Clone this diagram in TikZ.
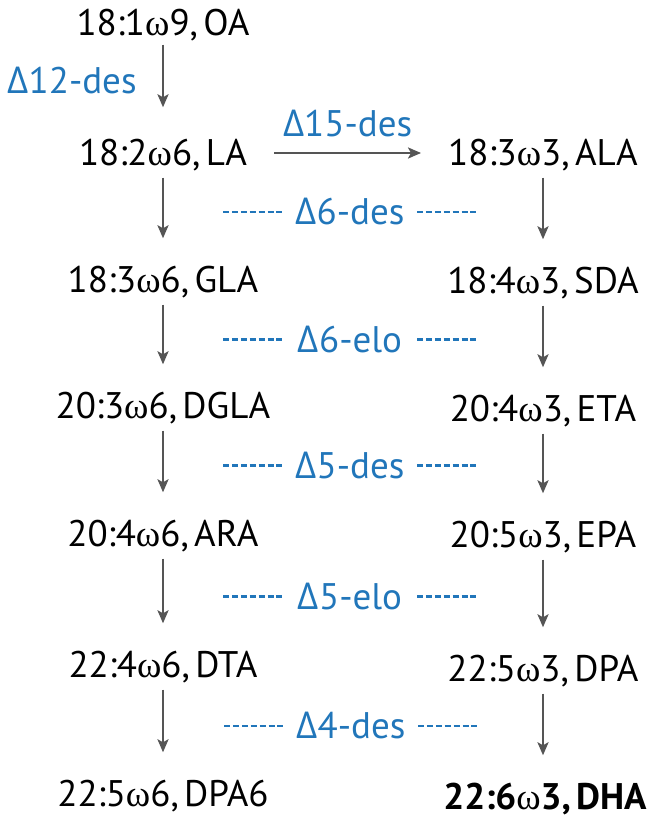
\documentclass[tikz,border=0pt]{standalone}
\usepackage{fontspec}
\setmainfont{PT Sans}[WordSpace=0.55]
\newfontfamily\omfont{Liberation Serif}
\newfontfamily\grkfont{Open Sans}
\usepackage{tikz}
\usetikzlibrary{arrows.meta,positioning,calc}
\newcommand{\om}{{\omfont\mdseries ω}}
\newcommand{\De}{{\grkfont\mdseries Δ}}
\definecolor{enzblue}{RGB}{33,118,186}
\definecolor{convgray}{RGB}{85,85,85}
\tikzstyle{acid}=[
    inner sep=0pt,
    text height=25pt,
    text depth=0pt,
    font=\fontsize{37}{43}\selectfont
]
\tikzstyle{enz}=[
    acid,
    text=enzblue
]
\tikzstyle{conv}=[
    -{Stealth[length=13pt,width=11pt,inset=3pt]},
    draw=convgray,
    line width=2.8pt,
    shorten <=12pt,
    shorten >=29pt
]
\tikzstyle{dashes}=[
    draw=enzblue,
    line width=2.2pt,
    dash pattern=on 6pt off 2.9pt
]

\begin{document}
\begin{tikzpicture}[x=1pt, y=1pt, on grid]
\useasboundingbox (0,0) rectangle (662,-821);

% omega-6 side
\node[acid] (oa) at (163,-23) {18:1\om9, OA};
\node[acid, below=130pt of oa] (la) {18:2\om6, LA};
\node[acid, below=127pt of la] (gla) {18:3\om6, GLA};
\node[acid, below=126pt of gla] (dgla) {20:3\om6, DGLA};
\node[acid, below=128pt of dgla] (ara) {20:4\om6, ARA};
\node[acid, below=131pt of ara] (dta) {22:4\om6, DTA};
\node[acid, below=129pt of dta] (dpasix) {22:5\om6, DPA6};

% omega-3 side
\node[acid, right=380pt of la] (ala) {18:3\om3, ALA};
\node[acid, below=128pt of ala] (sda) {18:4\om3, SDA};
\node[acid, below=128pt of sda] (eta) {20:4\om3, ETA};
\node[acid, below=126pt of eta] (epa) {20:5\om3, EPA};
\node[acid, below=134pt of epa] (dpa) {22:5\om3, DPA};
\node[acid, below=128pt of dpa, xshift=2pt, font=\fontsize{37}{43}\selectfont\bfseries] (dha) {22:6\om3, DHA};

\draw[conv, shorten <=9pt, shorten >=33pt] (oa) -- node[enz, left=25pt, pos=0.43] {\De12-des} (la);
\draw[conv, shorten <=27pt, shorten >=27pt] (la) -- node[enz, above=15pt] {\De15-des} (ala);

\draw[conv] (la) to (gla);
\draw[conv] (gla) to (dgla);
\draw[conv] (dgla) to (ara);
\draw[conv] (ara) to (dta);
\draw[conv] (dta) to (dpasix);

\draw[conv] (ala) to (sda);
\draw[conv] (sda) to (eta);
\draw[conv] (eta) to (epa);
\draw[conv] (epa) to (dpa);
\draw[conv] (dpa) to (dha.north -| dpa);

% enzymes shared by both sides
\node[enz, xshift=-3pt, yshift=5pt] (sixdes) at ($(la)!0.5!(sda)$) {\De6-des};
\node[enz, xshift=-3pt, yshift=5pt] (sixelo) at ($(gla)!0.5!(eta)$) {\De6-elo};
\node[enz, xshift=-3pt, yshift=5pt] (fivedes) at ($(dgla)!0.5!(epa)$) {\De5-des};
\node[enz, xshift=-3pt, yshift=5pt] (fiveelo) at ($(ara)!0.5!(dpa)$) {\De5-elo};
\node[enz, xshift=-3pt, yshift=5pt] (fourdes) at ($(dta)!0.5!(dha)$) {\De4-des};

\foreach \e in {sixdes,sixelo,fivedes,fiveelo,fourdes}{
    \draw[dashes] ([xshift=-127pt]\e.center) -- ([xshift=-68pt]\e.center);
    \draw[dashes] ([xshift=67pt]\e.center) -- ([xshift=127pt]\e.center);
}

\end{tikzpicture}
\end{document}
